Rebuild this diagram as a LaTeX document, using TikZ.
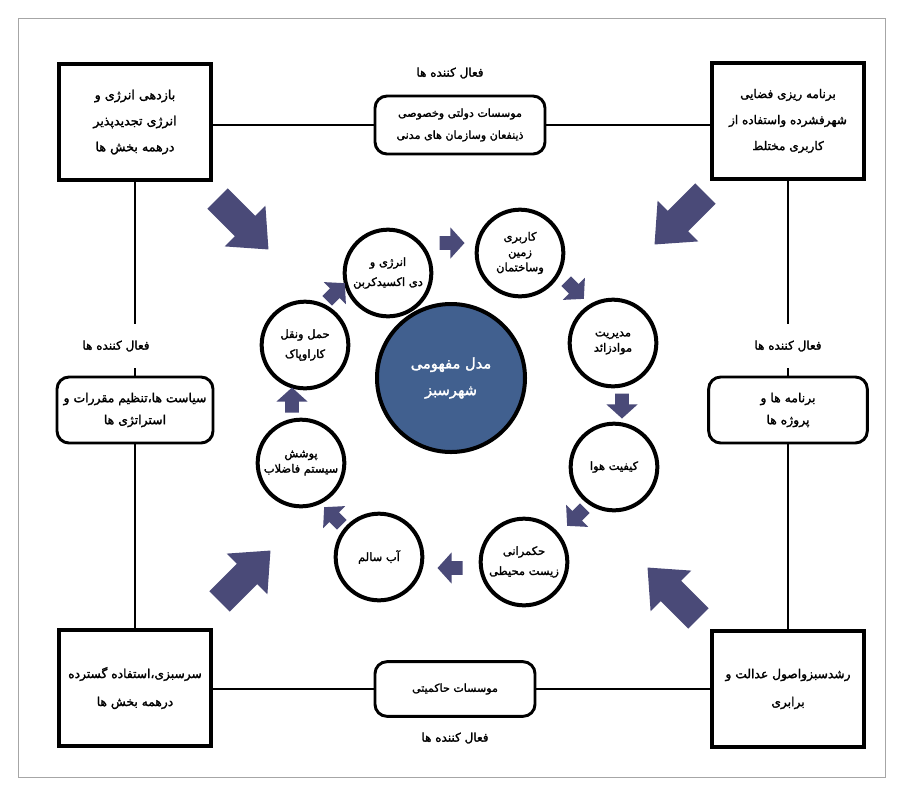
\documentclass[tikz,border=0pt]{standalone}
\usepackage{fontspec}
\TeXXeTstate=1
\newfontfamily\arabicfont[Script=Arabic,FakeBold=1.8]{DejaVu Sans}
\newcommand{\RL}[1]{\beginR#1\endR}
\definecolor{arrowcol}{HTML}{4A4A78}
\definecolor{centrecol}{HTML}{41608F}
% block arrow: x, y, angle, half length, shaft half width, head half width, head start
\newcommand{\blockarrow}[7]{%
  \begin{scope}[shift={(#1,#2)},rotate=#3,scale=#4]
    \fill[arrowcol] (-1,-#5) -- (#7,-#5) -- (#7,-#6) -- (1,0) -- (#7,#6) -- (#7,#5) -- (-1,#5) -- cycle;
  \end{scope}}
\begin{document}
\begin{tikzpicture}[x=0.75pt,y=-0.75pt,
  cornerbox/.style={draw=black, line width=2.6pt, minimum width=114pt, minimum height=87pt, inner sep=0pt, align=center, font=\arabicfont\fontsize{9.5}{19.5}\selectfont},
  midbox/.style={draw=black, line width=2.2pt, rounded corners=9pt, inner sep=0pt, align=center, font=\arabicfont\fontsize{8.3}{16.5}\selectfont},
  lbl/.style={inner sep=0pt, minimum height=33pt, font=\arabicfont\fontsize{9}{10}\selectfont},
  ring/.style={circle, draw=black, line width=3pt, minimum size=65pt, inner sep=0pt, align=center, font=\arabicfont\fontsize{8.6}{15}\selectfont},
  core/.style={circle, draw=black, fill=centrecol, line width=3pt, minimum size=111pt, inner sep=0pt, align=center, text=white, font=\arabicfont\fontsize{11}{20}\selectfont},
  conn/.style={draw=black, line width=2pt}]
\useasboundingbox (0,0) rectangle (903,794);
\fill[white] (0,0) rectangle (903,794);
\draw[gray!70, line width=0.5pt] (18,18) rectangle (885,777);

% corner boxes
\node[cornerbox] (tl) at (135,122) {\RL{بازدهی انرژی و}\\\RL{انرژی تجدیدپذیر}\\\RL{درهمه بخش ها}};
\node[cornerbox, font=\arabicfont\fontsize{9}{19.5}\selectfont] (tr) at (788,121) {\RL{برنامه ریزی فضایی}\\\RL{شهرفشرده واستفاده از}\\\RL{کاربری مختلط}};
\node[cornerbox, font=\arabicfont\fontsize{9.2}{21}\selectfont] (bl) at (135,688) {\RL{سرسبزی،استفاده گسترده}\\\RL{درهمه بخش ها}};
\node[cornerbox, font=\arabicfont\fontsize{9.2}{21}\selectfont] (br) at (788,689) {\RL{رشدسبزواصول عدالت و}\\\RL{برابری}};

% middle boxes
\node[midbox, minimum width=127.5pt, minimum height=43.5pt] (tm) at (460,125) {\RL{موسسات دولتی وخصوصی}\\\RL{ذینفعان وسازمان های مدنی}};
\node[midbox, minimum width=120pt, minimum height=41pt] (bm) at (455,689) {\RL{موسسات حاکمیتی}};
\node[midbox, minimum width=117pt, minimum height=49.5pt, font=\arabicfont\fontsize{9.3}{16.5}\selectfont] (ml) at (135,410) {\RL{سیاست ها،تنظیم مقررات و}\\\RL{استراتژی ها}};
\node[midbox, minimum width=119pt, minimum height=49.5pt, font=\arabicfont\fontsize{9.3}{16.5}\selectfont] (mr) at (788,410) {\RL{برنامه ها و}\\\RL{پروژه ها}};

% labels
\node[lbl] (lt) at (450,73) {\RL{فعال کننده ها}};
\node[lbl] (lb) at (455,738) {\RL{فعال کننده ها}};
\node[lbl] (ll) at (116,346) {\RL{فعال کننده ها}};
\node[lbl] (lr) at (788,346) {\RL{فعال کننده ها}};

% connectors
\draw[conn] (tm.west) -- (tm.west -| tl.east);
\draw[conn] (tm.east) -- (tm.east -| tr.west);
\draw[conn] (bm.west) -- (bm.west -| bl.east);
\draw[conn] (bm.east) -- (bm.east -| br.west);
\draw[conn] (tl.south) -- (tl.south |- ll.north);
\draw[conn] (ml.north) -- (ml.north |- ll.south);
\draw[conn] (tr.south) -- (tr.south |- lr.north);
\draw[conn] (mr.north) -- (mr.north |- lr.south);
\draw[conn] (ml.south) -- (bl.north);
\draw[conn] (mr.south) -- (br.north);

% centre and ring
\node[core] (core) at (451,378) {\RL{مدل مفهومی}\\\RL{شهرسبز}};
\node[ring] (c1) at (388,273) {\RL{انرژی و}\\\RL{دی اکسیدکربن}};
\node[ring, font=\arabicfont\fontsize{8.6}{11.5}\selectfont] (c2) at (520,253) {\RL{کاربری}\\\RL{زمین}\\\RL{وساختمان}};
\node[ring, font=\arabicfont\fontsize{8.6}{11.5}\selectfont] (c3) at (613,343) {\RL{مدیریت}\\\RL{موادزائد}};
\node[ring] (c4) at (614,467) {\RL{کیفیت هوا}};
\node[ring] (c5) at (524,562) {\RL{حکمرانی}\\\RL{زیست محیطی}};
\node[ring] (c6) at (379,557) {\RL{آب سالم}};
\node[ring, font=\arabicfont\fontsize{8.6}{11.5}\selectfont] (c7) at (301,463) {\RL{پوشش}\\\RL{سیستم فاضلاب}};
\node[ring] (c8) at (305,345) {\RL{حمل ونقل}\\\RL{کاراوپاک}};

% small arrows between ring circles
\blockarrow{452}{243}{0}{12.5}{0.55}{1.25}{-0.13}
\blockarrow{575}{290}{-45}{12.5}{0.55}{1.25}{-0.13}
\blockarrow{622}{406}{-90}{12.5}{0.55}{1.25}{-0.13}
\blockarrow{576}{517}{-135}{12.5}{0.55}{1.25}{-0.13}
\blockarrow{450}{568}{180}{12.5}{0.55}{1.25}{-0.13}
\blockarrow{333}{516}{135}{12.5}{0.55}{1.25}{-0.13}
\blockarrow{292}{400}{90}{12.5}{0.55}{1.25}{-0.13}
\blockarrow{336}{292}{45}{12.5}{0.55}{1.25}{-0.13}

% big corner arrows
\blockarrow{243}{224}{-45}{36}{0.4}{0.8}{0.08}
\blockarrow{680}{219}{-135}{36}{0.4}{0.8}{0.08}
\blockarrow{245}{576}{45}{36}{0.4}{0.8}{0.08}
\blockarrow{673}{593}{135}{36}{0.4}{0.8}{0.08}
\end{tikzpicture}
\end{document}
